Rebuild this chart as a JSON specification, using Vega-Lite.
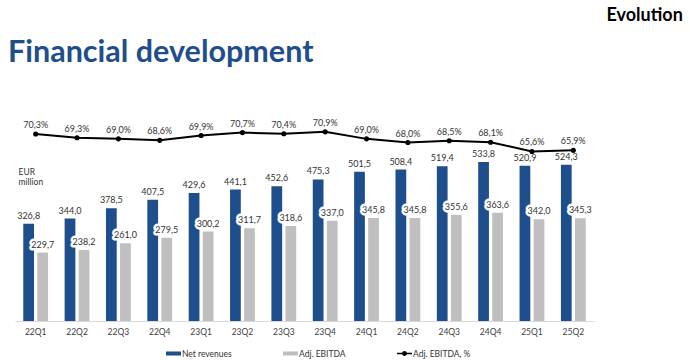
{
  "$schema": "https://vega.github.io/schema/vega-lite/v6.json",
  "width": 579,
  "height": 221,
  "autosize": {"type": "none"},
  "padding": {"left": 15, "top": 100, "right": 96, "bottom": 39},
  "background": "white",
  "config": {
    "view": {"stroke": null},
    "font": "Lato",
    "locale": {"number": {"decimal": ",", "thousands": " ", "grouping": [3], "currency": ["", "€"]}}
  },
  "title": {
    "text": "Financial development",
    "anchor": "start",
    "frame": "group",
    "dx": -7,
    "offset": -86,
    "baseline": "alphabetic",
    "fontSize": 30.5,
    "font": "Lato",
    "fontWeight": "bold",
    "color": "#1f4e8c"
  },
  "datasets": {
    "bars": [
      {"q": "22Q1", "series": "Net revenues", "value": 326.8},
      {"q": "22Q1", "series": "Adj. EBITDA", "value": 229.7},
      {"q": "22Q2", "series": "Net revenues", "value": 344.0},
      {"q": "22Q2", "series": "Adj. EBITDA", "value": 238.2},
      {"q": "22Q3", "series": "Net revenues", "value": 378.5},
      {"q": "22Q3", "series": "Adj. EBITDA", "value": 261.0},
      {"q": "22Q4", "series": "Net revenues", "value": 407.5},
      {"q": "22Q4", "series": "Adj. EBITDA", "value": 279.5},
      {"q": "23Q1", "series": "Net revenues", "value": 429.6},
      {"q": "23Q1", "series": "Adj. EBITDA", "value": 300.2},
      {"q": "23Q2", "series": "Net revenues", "value": 441.1},
      {"q": "23Q2", "series": "Adj. EBITDA", "value": 311.7},
      {"q": "23Q3", "series": "Net revenues", "value": 452.6},
      {"q": "23Q3", "series": "Adj. EBITDA", "value": 318.6},
      {"q": "23Q4", "series": "Net revenues", "value": 475.3},
      {"q": "23Q4", "series": "Adj. EBITDA", "value": 337.0},
      {"q": "24Q1", "series": "Net revenues", "value": 501.5},
      {"q": "24Q1", "series": "Adj. EBITDA", "value": 345.8},
      {"q": "24Q2", "series": "Net revenues", "value": 508.4},
      {"q": "24Q2", "series": "Adj. EBITDA", "value": 345.8},
      {"q": "24Q3", "series": "Net revenues", "value": 519.4},
      {"q": "24Q3", "series": "Adj. EBITDA", "value": 355.6},
      {"q": "24Q4", "series": "Net revenues", "value": 533.8},
      {"q": "24Q4", "series": "Adj. EBITDA", "value": 363.6},
      {"q": "25Q1", "series": "Net revenues", "value": 520.9},
      {"q": "25Q1", "series": "Adj. EBITDA", "value": 342.0},
      {"q": "25Q2", "series": "Net revenues", "value": 524.3},
      {"q": "25Q2", "series": "Adj. EBITDA", "value": 345.3}
    ],
    "margin": [
      {"q": "22Q1", "pct": 0.703},
      {"q": "22Q2", "pct": 0.693},
      {"q": "22Q3", "pct": 0.690},
      {"q": "22Q4", "pct": 0.686},
      {"q": "23Q1", "pct": 0.699},
      {"q": "23Q2", "pct": 0.707},
      {"q": "23Q3", "pct": 0.704},
      {"q": "23Q4", "pct": 0.709},
      {"q": "24Q1", "pct": 0.690},
      {"q": "24Q2", "pct": 0.680},
      {"q": "24Q3", "pct": 0.685},
      {"q": "24Q4", "pct": 0.681},
      {"q": "25Q1", "pct": 0.656},
      {"q": "25Q2", "pct": 0.659}
    ]
  },
  "encoding": {
    "x": {
      "field": "q",
      "type": "nominal",
      "scale": {"paddingInner": 0.4, "paddingOuter": 0.2},
      "axis": {
        "title": null,
        "ticks": false,
        "labelAngle": 0,
        "labelFont": "Lato",
        "labelFontSize": 8.5,
        "labelColor": "#404040",
        "labelPadding": 6,
        "domainColor": "#d9d9d9",
        "domainWidth": 1
      }
    }
  },
  "layer": [
    {
      "data": {"name": "bars"},
      "encoding": {
        "xOffset": {
          "field": "series",
          "type": "nominal",
          "sort": ["Net revenues", "Adj. EBITDA"],
          "scale": {"paddingInner": 0.236, "paddingOuter": 0}
        },
        "y": {
          "field": "value",
          "type": "quantitative",
          "scale": {"domain": [0, 742], "nice": false},
          "axis": {
            "orient": "left",
            "labels": false,
            "ticks": false,
            "domain": false,
            "grid": false,
            "title": ["EUR", "million"],
            "titleAngle": 0,
            "titleAlign": "left",
            "titleBaseline": "top",
            "titleX": 3,
            "titleY": 67,
            "titleFont": "Lato",
            "titleFontSize": 8.5,
            "titleFontWeight": "normal",
            "titleColor": "#333333",
            "titleLineHeight": 10
          }
        }
      },
      "layer": [
        {
          "mark": {"type": "bar"},
          "encoding": {
            "color": {
              "field": "series",
              "type": "nominal",
              "scale": {
                "domain": ["Net revenues", "Adj. EBITDA", "Adj. EBITDA, %"],
                "range": ["#1f4e8c", "#bfbfbf", "#000000"]
              },
              "legend": {
                "orient": "none",
                "legendX": 151,
                "legendY": 246,
                "direction": "horizontal",
                "title": null,
                "symbolType": "M-1,-0.27H1V0.27H-1Z",
                "symbolSize": 225,
                "symbolStrokeWidth": 0,
                "labelFont": "Lato",
                "labelFontSize": 8.5,
                "labelColor": "#333333",
                "labelOffset": 1,
                "columnPadding": 51,
                "encode": {
                  "symbols": {
                    "update": {
                      "shape": {
                        "signal": "datum.value === 'Adj. EBITDA, %' ? 'M-1,-0.1H-0.3V0.1H-1Z M0.3,-0.1H1V0.1H0.3Z M0.33,0A0.33,0.33 0 1 1 -0.33,0A0.33,0.33 0 1 1 0.33,0Z' : 'M-1,-0.27H1V0.27H-1Z'"
                      }
                    }
                  }
                }
              }
            }
          }
        },
        {
          "mark": {
            "type": "text",
            "baseline": "bottom",
            "dy": -3,
            "fontSize": 9,
            "font": "Lato",
            "stroke": "white",
            "strokeWidth": 5,
            "strokeJoin": "round",
            "fill": "white"
          },
          "encoding": {
            "text": {"field": "value", "type": "quantitative", "format": ".1f"}
          }
        },
        {
          "mark": {
            "type": "text",
            "baseline": "bottom",
            "dy": -3,
            "fontSize": 9,
            "font": "Lato",
            "color": "#333333"
          },
          "encoding": {
            "text": {"field": "value", "type": "quantitative", "format": ".1f"}
          }
        }
      ]
    },
    {
      "data": {"name": "margin"},
      "encoding": {
        "y": {
          "field": "pct",
          "type": "quantitative",
          "scale": {"domain": [0.198, 0.795], "nice": false, "zero": false},
          "axis": {
            "orient": "right",
            "labels": false,
            "ticks": false,
            "domain": false,
            "grid": false,
            "title": "Evolution",
            "titleAngle": 0,
            "titleAlign": "left",
            "titleBaseline": "alphabetic",
            "titleX": 12,
            "titleY": -80,
            "titleFont": "Lato",
            "titleFontSize": 18,
            "titleFontWeight": "bold",
            "titleColor": "#000000"
          }
        }
      },
      "layer": [
        {
          "mark": {
            "type": "line",
            "color": "#000000",
            "strokeWidth": 2,
            "point": {"filled": true, "size": 26, "color": "#000000"}
          }
        },
        {
          "mark": {
            "type": "text",
            "baseline": "bottom",
            "dy": -4,
            "fontSize": 9,
            "font": "Lato",
            "color": "#333333"
          },
          "encoding": {
            "text": {"field": "pct", "type": "quantitative", "format": ".1%"}
          }
        }
      ]
    }
  ],
  "resolve": {"scale": {"y": "independent"}}
}
